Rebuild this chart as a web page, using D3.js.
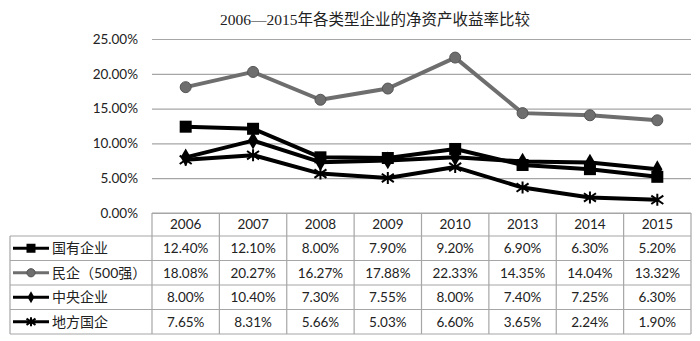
<!DOCTYPE html>
<html>
<head>
<meta charset="utf-8">
<title>净资产收益率比较</title>
<script src="https://cdn.jsdelivr.net/npm/d3@7"></script>
<style>
  body { margin: 0; background: #fff; }
</style>
</head>
<body>
<script>
var w = 700, h = 341;

var years = ["2006", "2007", "2008", "2009", "2010", "2013", "2014", "2015"];
var seriesNames = ["国有企业", "民企（500强）", "中央企业", "地方国企"];
var guoyou = [12.40, 12.10, 8.00, 7.90, 9.20, 6.90, 6.30, 5.20];
var minqi = [18.08, 20.27, 16.27, 17.88, 22.33, 14.35, 14.04, 13.32];
var zhongyang = [8.00, 10.40, 7.30, 7.55, 8.00, 7.40, 7.25, 6.30];
var difang = [7.65, 8.31, 5.66, 5.03, 6.60, 3.65, 2.24, 1.90];
var yTicks = [0, 5, 10, 15, 20, 25];

var series = [
  { name: seriesNames[0], values: guoyou, color: "#000", marker: "square" },
  { name: seriesNames[1], values: minqi, color: "#6e6e6e", marker: "circle" },
  { name: seriesNames[2], values: zhongyang, color: "#000", marker: "diamond" },
  { name: seriesNames[3], values: difang, color: "#000", marker: "star" }
];

// plot box (window.top is reserved, so use other names)
var plotLeft = 152, plotRight = 691, plotTop = 39, plotBottom = 213;
var rowH = 24.5, headH = 23, tableLeft = 10;
var font = "Lato, 'Noto Sans CJK SC', sans-serif";

var svg = d3.select("body").append("svg")
  .attr("width", w).attr("height", h);

// title
svg.append("text")
  .attr("x", 375).attr("y", 25)
  .attr("text-anchor", "middle")
  .attr("font-family", "'Liberation Serif', 'Noto Sans CJK SC', serif")
  .attr("font-size", "15.5px")
  .attr("fill", "#222")
  .text("2006—2015年各类型企业的净资产收益率比较");

var x = d3.scaleBand().domain(years).range([plotLeft, plotRight]);
var y = d3.scaleLinear().domain([0, 25]).range([plotBottom, plotTop]);

// gridlines + y labels
var yAxis = d3.axisLeft(y).tickValues(yTicks)
  .tickSize(-(plotRight - plotLeft)).tickPadding(14)
  .tickFormat(function(d) { return d.toFixed(2) + "%"; });
var ga = svg.append("g").attr("transform", "translate(" + plotLeft + ",0)").call(yAxis);
ga.select(".domain").remove();
ga.selectAll(".tick line").attr("stroke", "#a6a6a6").attr("stroke-width", 1.2);
ga.selectAll(".tick text").attr("font-family", font).attr("font-size", "13.5px").attr("fill", "#222");

// markers
function drawMarker(g, s, cx, cy, legend) {
  var k = legend ? 0.75 : 1;
  if (s.marker == "square") {
    g.append("rect").attr("x", cx - 6 * k).attr("y", cy - 6 * k)
      .attr("width", 12 * k).attr("height", 12 * k).attr("fill", "#000");
  } else if (s.marker == "circle") {
    g.append("circle").attr("cx", cx).attr("cy", cy).attr("r", 5.5 * k)
      .attr("fill", "#6e6e6e").attr("stroke", "#555").attr("stroke-width", 1);
  } else if (s.marker == "diamond") {
    g.append("path").attr("transform", "translate(" + cx + "," + cy + ")")
      .attr("d", d3.symbol().type(d3.symbolDiamond).size(legend ? 40 : 90)())
      .attr("fill", "#000");
  } else {
    var r = 6 * k;
    g.append("path").attr("transform", "translate(" + cx + "," + cy + ")")
      .attr("d", "M0," + (-r) + "L0," + r + "M" + (-r) + "," + (-r * 0.7) + "L" + r + "," + (r * 0.7) +
        "M" + (-r) + "," + (r * 0.7) + "L" + r + "," + (-r * 0.7))
      .attr("stroke", "#000").attr("stroke-width", 2).attr("fill", "none");
  }
}

var line = d3.line()
  .x(function(d, i) { return x(years[i]) + x.bandwidth() / 2; })
  .y(function(d) { return y(d); });

// gray series first, black ones on top
[1, 3, 2, 0].forEach(function(idx) {
  var s = series[idx];
  var g = svg.append("g");
  g.append("path").datum(s.values).attr("d", line)
    .attr("fill", "none").attr("stroke", s.color).attr("stroke-width", 4)
    .attr("stroke-linejoin", "round");
  s.values.forEach(function(v, i) {
    drawMarker(g, s, x(years[i]) + x.bandwidth() / 2, y(v), false);
  });
});

// data table
var tb = svg.append("g");
var tableBottom = plotBottom + headH + rowH * series.length;
var gridColor = "#a6a6a6";

years.forEach(function(yr) {
  tb.append("text")
    .attr("x", x(yr) + x.bandwidth() / 2).attr("y", plotBottom + headH / 2)
    .attr("dy", "0.36em").attr("text-anchor", "middle")
    .attr("font-family", font).attr("font-size", "13.5px").attr("fill", "#222")
    .text(yr);
});

years.concat(["end"]).forEach(function(yr) {
  var xx = yr == "end" ? plotRight : x(yr);
  tb.append("line").attr("x1", xx).attr("x2", xx)
    .attr("y1", plotBottom).attr("y2", tableBottom)
    .attr("stroke", gridColor).attr("stroke-width", 1.2);
});
tb.append("line").attr("x1", tableLeft).attr("x2", tableLeft)
  .attr("y1", plotBottom + headH).attr("y2", tableBottom)
  .attr("stroke", gridColor).attr("stroke-width", 1.2);

tb.append("line").attr("x1", plotLeft).attr("x2", plotRight)
  .attr("y1", plotBottom).attr("y2", plotBottom)
  .attr("stroke", gridColor).attr("stroke-width", 1.2);
d3.range(series.length + 1).forEach(function(i) {
  var yy = plotBottom + headH + rowH * i;
  tb.append("line").attr("x1", tableLeft).attr("x2", plotRight)
    .attr("y1", yy).attr("y2", yy)
    .attr("stroke", gridColor).attr("stroke-width", 1.2);
});

series.forEach(function(s, r) {
  var cy = plotBottom + headH + rowH * r + rowH / 2;
  tb.append("line").attr("x1", 13).attr("x2", 49)
    .attr("y1", cy).attr("y2", cy)
    .attr("stroke", s.color).attr("stroke-width", 3);
  drawMarker(tb, s, 31, cy, true);
  tb.append("text").attr("x", 52).attr("y", cy).attr("dy", "0.36em")
    .attr("font-family", font).attr("font-size", "14px").attr("fill", "#222")
    .text(s.name);
  s.values.forEach(function(v, i) {
    tb.append("text")
      .attr("x", x(years[i]) + x.bandwidth() / 2).attr("y", cy).attr("dy", "0.36em")
      .attr("text-anchor", "middle")
      .attr("font-family", font).attr("font-size", "13.5px").attr("fill", "#222")
      .text(v.toFixed(2) + "%");
  });
});
</script>
</body>
</html>
